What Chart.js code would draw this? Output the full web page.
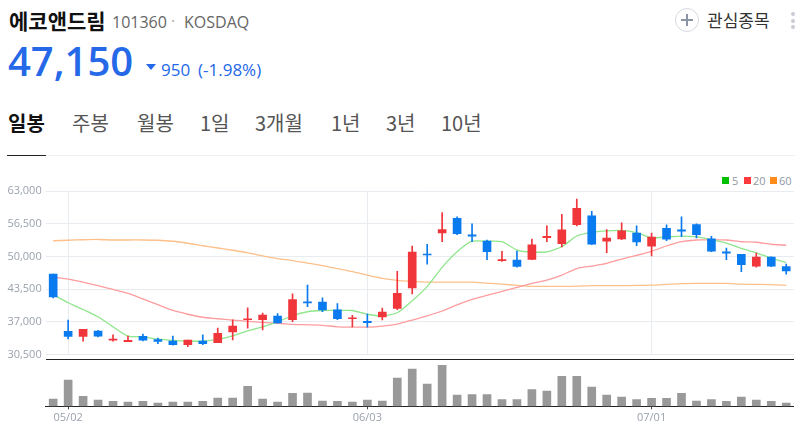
<!DOCTYPE html>
<html lang="ko">
<head>
<meta charset="utf-8">
<title>에코앤드림</title>
<script src="https://cdn.jsdelivr.net/npm/chart.js@4"></script>
<style>
  html, body { margin: 0; padding: 0; background: #fff; }
  body { width: 808px; height: 438px; position: relative; overflow: hidden; font-family: "Open Sans", "Noto Sans CJK KR", sans-serif; }
  .abs { position: absolute; white-space: nowrap; line-height: 1; }
  canvas { position: absolute; left: 0; }
  .tab { top: 113px; font-size: 20px; color: #555; font-family: "Noto Sans CJK KR", sans-serif; }
  .tab.on { font-weight: 700; color: #111; }
  .swatch { position: absolute; top: 177px; width: 7px; height: 7px; }
  .legend-text { top: 175px; font-size: 11px; color: #8f97a3; }
</style>
</head>
<body>
  <div class="abs" style="left:9px;top:10px;font-size:21px;font-weight:700;color:#111;font-family:'Noto Sans CJK KR',sans-serif">에코앤드림</div>
  <div class="abs" style="left:112px;top:14px;font-size:16px;color:#666">101360</div>
  <div class="abs" style="left:171px;top:13px;font-size:16px;color:#aaa">·</div>
  <div class="abs" style="left:184px;top:14px;font-size:16px;color:#666">KOSDAQ</div>
  <div class="abs" style="left:8px;top:41px;font-size:40px;font-weight:600;color:#2568e8">47,150</div>
  <div class="abs" style="left:146px;top:64px;width:0;height:0;border-left:5px solid transparent;border-right:5px solid transparent;border-top:6px solid #2568e8"></div>
  <div class="abs" style="left:161px;top:61px;font-size:17px;color:#2568e8">950</div>
  <div class="abs" style="left:198px;top:61px;font-size:17px;color:#2568e8">(-1.98%)</div>

  <div class="abs" style="left:675px;top:8px;width:24px;height:24px;box-sizing:border-box;border:1px solid #d5d9e0;border-radius:50%"></div>
  <div class="abs" style="left:681px;top:19px;width:12px;height:2px;background:#8b95a3"></div>
  <div class="abs" style="left:686px;top:14px;width:2px;height:12px;background:#8b95a3"></div>
  <div class="abs" style="left:707px;top:11px;font-size:17px;color:#333;font-family:'Noto Sans CJK KR',sans-serif">관심종목</div>
  <div class="abs" style="left:791px;top:12px;width:4px;height:4px;border-radius:50%;background:#c8ccd4"></div>
  <div class="abs" style="left:791px;top:19px;width:4px;height:4px;border-radius:50%;background:#c8ccd4"></div>
  <div class="abs" style="left:791px;top:25px;width:4px;height:4px;border-radius:50%;background:#c8ccd4"></div>

  <div class="abs tab on" style="left:8px">일봉</div>
  <div class="abs tab" style="left:72px">주봉</div>
  <div class="abs tab" style="left:137px">월봉</div>
  <div class="abs tab" style="left:200px">1일</div>
  <div class="abs tab" style="left:255px">3개월</div>
  <div class="abs tab" style="left:331px">1년</div>
  <div class="abs tab" style="left:386px">3년</div>
  <div class="abs tab" style="left:441px">10년</div>
  <div class="abs" style="left:7px;top:155px;width:788px;height:1px;background:#eef0f2"></div>
  <div class="abs" style="left:7px;top:155px;width:39px;height:1px;background:#222"></div>

  <div class="swatch" style="left:722px;background:#00c000"></div>
  <div class="abs legend-text" style="left:732px">5</div>
  <div class="swatch" style="left:744px;background:#ff3a3f"></div>
  <div class="abs legend-text" style="left:753px">20</div>
  <div class="swatch" style="left:770px;background:#ff8c1a"></div>
  <div class="abs legend-text" style="left:779px">60</div>

  <canvas id="priceChart" width="808" height="195" style="top:170px"></canvas>
  <canvas id="volumeChart" width="808" height="83" style="top:355px"></canvas>
  <div class="abs" style="left:46px;top:359px;width:748px;height:1px;background:#222"></div>

<script>
const categories = [
  "04/29","05/02","05/03","05/04","05/06","05/09","05/10","05/11","05/12","05/13",
  "05/16","05/17","05/18","05/19","05/20","05/23","05/24","05/25","05/26","05/27",
  "05/30","06/03","06/07","06/08","06/09","06/10","06/13","06/14","06/15","06/16",
  "06/17","06/20","06/21","06/22","06/23","06/24","06/27","06/28","06/29","06/30",
  "07/01","07/04","07/05","07/06","07/07","07/08","07/11","07/12","07/13","07/14"
];
const tickLabels = ["05/02", "06/03", "07/01"];
const priceTicks = [30500, 37000, 43500, 50000, 56500, 63000];

const opens = [
  46500,35100,34100,35150,33350,33050,34100,33450,33150,32450,
  33150,32850,35000,37400,37400,38150,37400,41000,40950,39400,
  37600,37100,37950,39650,43750,50500,54700,57600,54350,53100,
  49200,49300,49450,53750,52550,56350,58100,53050,53500,54650,
  52050,55600,55300,56350,53550,50950,50450,48100,49900,48000
];
const closes = [
  41950,34100,35500,34150,33550,33300,33350,33100,32450,33350,
  32650,34700,36150,37550,38350,36750,41400,40750,39350,37600,
  37800,36800,38950,42650,50900,50300,55350,54550,54050,50950,
  49400,48050,52350,54050,55300,59600,52450,53700,55100,52900,
  53900,53450,55050,54350,51050,50650,48400,49900,48100,47150
];
const highs = [
  46500,37350,35500,35300,34400,34150,34550,33750,34150,33350,
  34400,35750,37400,39800,38750,38650,42550,44300,41750,40650,
  38300,38550,39750,47050,52100,52450,58750,57900,56500,53300,
  51050,51100,53500,56100,58400,61450,59000,55350,56700,56100,
  54650,56300,57900,56500,54050,51700,50450,50700,49950,48500
];
const lows = [
  41750,33600,33150,34000,33150,33050,33200,32650,32350,32050,
  32450,32850,33400,35750,35400,36700,37000,40000,39000,37400,
  36000,35950,37350,39400,42550,48500,52950,54350,52950,49400,
  49050,47900,49400,52950,51900,56100,52350,50750,53350,52150,
  50100,53150,53950,53700,50950,49400,47000,47900,48000,46500
];
const ma5 = [
  42400,40800,39450,38000,36000,34150,34000,33550,33300,33150,
  33150,33500,34200,35200,36000,37000,38200,39000,39250,39250,
  39250,38500,38150,38800,41200,44000,47850,50950,53050,53050,
  52950,51300,50900,50950,51950,54100,54800,55100,55200,54750,
  53750,53900,54050,53900,53350,52650,51650,50750,49700,48800
];
const ma20 = [
  45900,45500,44900,44200,43450,42650,41550,40400,39250,38500,
  37900,37600,37350,37100,36900,36700,36500,36400,36300,36000,
  35950,35950,36150,36550,37350,38200,39150,40350,41450,42250,
  43050,43850,44650,45300,46300,47600,48100,48650,49500,50250,
  51050,52100,52950,53300,53300,53300,52950,52850,52450,52250
];
const ma60 = [
  53150,53250,53350,53400,53300,53300,53300,53250,53050,52650,
  52150,51700,51250,50750,50150,49600,49200,48700,48200,47600,
  47000,46300,45650,45250,45050,44900,44900,44900,44900,44700,
  44500,44250,44050,44050,44050,44100,44200,44200,44200,44250,
  44300,44450,44600,44650,44650,44650,44500,44450,44400,44250
];
// no scale on the picture, volume read as bar height only
const volumes = [
  22,79,30,19,15,13,15,10,13,13,
  15,25,25,60,22,13,39,40,16,15,
  13,19,16,85,112,67,123,34,35,35,
  20,20,50,46,90,90,58,34,28,20,
  24,24,39,16,20,15,28,19,15,10
];

const UP = "#f0363b";
const DOWN = "#0a7bef";
const candleColors = opens.map((o, i) => (closes[i] >= o ? UP : DOWN));

const AXIS_LEFT = 45.7;
const AXIS_RIGHT = 14.3;

function lineSet(label, data, color) {
  return {
    type: "line",
    label: label,
    data: data,
    borderColor: color,
    borderWidth: 1.3,
    pointRadius: 0,
    tension: 0.2,
    order: 3
  };
}

new Chart(document.getElementById("priceChart"), {
  data: {
    labels: categories,
    datasets: [
      {
        type: "bar",
        label: "body",
        data: opens.map((o, i) => [o, closes[i]]),
        backgroundColor: candleColors,
        barThickness: 8,
        minBarLength: 1,
        grouped: false,
        order: 1
      },
      {
        type: "bar",
        label: "wick",
        data: lows.map((l, i) => [l, highs[i]]),
        backgroundColor: candleColors,
        barThickness: 1,
        grouped: false,
        order: 2
      },
      lineSet("5", ma5, "#8fe68c"),
      lineSet("20", ma20, "#ff9c9e"),
      lineSet("60", ma60, "#fdc08a")
    ]
  },
  options: {
    responsive: false,
    animation: false,
    // tick labels reserve room under the plot, so the canvas runs past the plot bottom
    layout: { padding: { left: 0, right: AXIS_RIGHT, top: 21.3, bottom: 0.7 } },
    plugins: { legend: { display: false }, tooltip: { enabled: false } },
    scales: {
      x: {
        afterFit: scale => { scale.height = 0; },
        ticks: { display: false, autoSkip: false },
        border: { display: false },
        grid: {
          offset: false,
          drawTicks: false,
          color: ctx => (ctx.tick && tickLabels.includes(categories[ctx.index]) ? "#e8ecf1" : "transparent")
        }
      },
      y: {
        min: 30500,
        max: 63000,
        afterBuildTicks: scale => { scale.ticks = priceTicks.map(v => ({ value: v })); },
        afterFit: scale => { scale.width = AXIS_LEFT; },
        border: { display: false },
        grid: { drawTicks: false, color: "#e8ebef" },
        ticks: {
          padding: 4,
          color: "#9aa1ad",
          font: { family: "'Open Sans'", size: 11 },
          callback: v => v.toLocaleString("en-US")
        }
      }
    }
  }
});

new Chart(document.getElementById("volumeChart"), {
  type: "bar",
  data: {
    labels: categories,
    datasets: [{
      data: volumes,
      backgroundColor: "#999999",
      barThickness: 8
    }]
  },
  options: {
    responsive: false,
    animation: false,
    layout: { padding: { left: AXIS_LEFT, right: AXIS_RIGHT, top: 4.3, bottom: 0 } },
    plugins: { legend: { display: false }, tooltip: { enabled: false } },
    scales: {
      x: {
        afterFit: scale => { scale.height = 31.7; },
        border: { display: true, color: "#222", width: 1 },
        grid: {
          offset: false,
          drawOnChartArea: false,
          tickLength: 3,
          tickColor: ctx => (tickLabels.includes(categories[ctx.index]) ? "#444" : "transparent")
        },
        ticks: {
          autoSkip: false,
          maxRotation: 0,
          padding: 2,
          color: "#9aa1ad",
          font: { family: "'Open Sans'", size: 11 },
          callback: (v, i) => (tickLabels.includes(categories[i]) ? categories[i] : "")
        }
      },
      y: { display: false, min: 0, max: 141 }
    }
  }
});
</script>
</body>
</html>
